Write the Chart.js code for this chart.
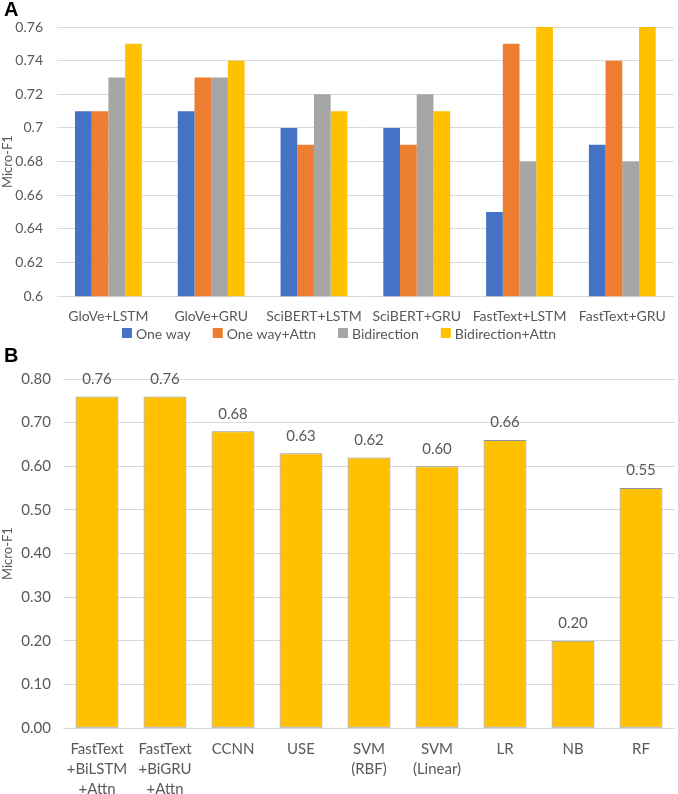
<!DOCTYPE html>
<html>
<head>
<meta charset="utf-8">
<script src="https://cdn.jsdelivr.net/npm/chart.js@4"></script>
<style>
    body { margin: 0; background: #fff; overflow: hidden; }
    .panel { position: absolute; left: 0; width: 678px; }
    .tag { position: absolute; left: 4px; font: bold 20px "Liberation Sans", Arial, sans-serif; color: #000; }
</style>
</head>
<body>
<div class="panel" style="top:0; height:345px;"><canvas id="chartA"></canvas></div>
<div class="panel" style="top:345px; height:449px;"><canvas id="chartB"></canvas></div>
<div class="tag" style="top:-2px;">A</div>
<div class="tag" style="top:344px;">B</div>
<script>
// panel A
const modelsA = ["GloVe+LSTM", "GloVe+GRU", "SciBERT+LSTM", "SciBERT+GRU", "FastText+LSTM", "FastText+GRU"];
const oneWay = [0.71, 0.71, 0.70, 0.70, 0.65, 0.69];
const oneWayAttn = [0.71, 0.73, 0.69, 0.69, 0.75, 0.74];
const bidirection = [0.73, 0.73, 0.72, 0.72, 0.68, 0.68];
const bidirectionAttn = [0.75, 0.74, 0.71, 0.71, 0.76, 0.76];

// panel B
const modelsB = [
    ["FastText", "+BiLSTM", "+Attn"],
    ["FastText", "+BiGRU", "+Attn"],
    "CCNN", "USE",
    ["SVM", "(RBF)"],
    ["SVM", "(Linear)"],
    "LR", "NB", "RF"
];
const scoresB = [0.76, 0.76, 0.68, 0.63, 0.62, 0.60, 0.66, 0.20, 0.55];

const FONT = "Lato, 'Liberation Sans', sans-serif";
const TXT = "#595959";
const GRID = "#d9d9d9";

Chart.defaults.font.family = FONT;
Chart.defaults.color = TXT;

// value above each bar in panel B
const valueLabels = {
    id: "valueLabels",
    afterDatasetsDraw(chart) {
        const ctx = chart.ctx;
        ctx.save();
        ctx.font = "15px " + FONT;
        ctx.fillStyle = TXT;
        ctx.textAlign = "center";
        ctx.textBaseline = "bottom";
        chart.getDatasetMeta(0).data.forEach((bar, i) => {
            ctx.fillText(scoresB[i].toFixed(2), bar.x, bar.y - 10);
        });
        ctx.restore();
    }
};

// excel-style legend row, centered under panel A
const wideLegend = {
    id: "wideLegend",
    afterDraw(chart) {
        const ctx = chart.ctx;
        const sets = chart.data.datasets;
        const box = 10, gapText = 4, gapItem = 22;
        ctx.save();
        ctx.font = "14px " + FONT;
        ctx.textBaseline = "middle";
        const widths = sets.map(d => box + gapText + ctx.measureText(d.label).width);
        const total = widths.reduce((a, b) => a + b, 0) + gapItem * (sets.length - 1);
        let x = (chart.width - total) / 2;
        const y = chart.height - 12;
        sets.forEach((d, i) => {
            ctx.fillStyle = d.backgroundColor;
            ctx.fillRect(x, y - box / 2, box, box);
            ctx.fillStyle = TXT;
            ctx.fillText(d.label, x + box + gapText, y + 1);
            x += widths[i] + gapItem;
        });
        ctx.restore();
    }
};

new Chart(document.getElementById("chartA"), {
    type: "bar",
    data: {
        labels: modelsA,
        datasets: [
            { label: "One way", data: oneWay, backgroundColor: "#4472c4" },
            { label: "One way+Attn", data: oneWayAttn, backgroundColor: "#ed7d31" },
            { label: "Bidirection", data: bidirection, backgroundColor: "#a5a5a5" },
            { label: "Bidirection+Attn", data: bidirectionAttn, backgroundColor: "#ffc000" }
        ]
    },
    options: {
        responsive: true,
        maintainAspectRatio: false,
        animation: false,
        layout: { padding: { top: 27, right: 3, bottom: 8 } },
        datasets: { bar: { categoryPercentage: 0.65, barPercentage: 1 } },
        plugins: {
            legend: { display: false },
            tooltip: { enabled: false }
        },
        scales: {
            x: {
                grid: { display: false, drawTicks: false },
                border: { display: false },
                ticks: { font: { size: 14 }, padding: 12, maxRotation: 0 }
            },
            y: {
                min: 0.6,
                max: 0.76,
                ticks: {
                    stepSize: 0.02,
                    font: { size: 14 },
                    padding: 14,
                    callback: v => String(+v.toFixed(2))
                },
                grid: { color: GRID, drawTicks: false },
                border: { display: false },
                title: { display: true, text: "Micro-F1", font: { size: 13 }, padding: 0 },
                afterFit: s => { s.width = 57; }
            }
        }
    },
    plugins: [wideLegend]
});

new Chart(document.getElementById("chartB"), {
    type: "bar",
    data: {
        labels: modelsB,
        datasets: [{
            label: "Micro-F1",
            data: scoresB,
            backgroundColor: "#ffc000",
            borderColor: "#8a94a6",
            borderWidth: 1,
            borderSkipped: false
        }]
    },
    options: {
        responsive: true,
        maintainAspectRatio: false,
        animation: false,
        layout: { padding: { top: 34, right: 3, bottom: -16 } },
        datasets: { bar: { categoryPercentage: 0.63, barPercentage: 1 } },
        plugins: {
            legend: { display: false },
            tooltip: { enabled: false }
        },
        scales: {
            x: {
                grid: { display: false, drawTicks: false },
                border: { display: false },
                ticks: { font: { size: 15, lineHeight: 1.33 }, padding: 11, maxRotation: 0 }
            },
            y: {
                min: 0,
                max: 0.8,
                ticks: {
                    stepSize: 0.1,
                    font: { size: 15 },
                    padding: 12,
                    callback: v => v.toFixed(2)
                },
                grid: { color: GRID, drawTicks: false },
                border: { display: false },
                title: { display: true, text: "Micro-F1", font: { size: 13 }, padding: 0 },
                afterFit: s => { s.width = 63; }
            }
        }
    },
    plugins: [valueLabels]
});
</script>
</body>
</html>
